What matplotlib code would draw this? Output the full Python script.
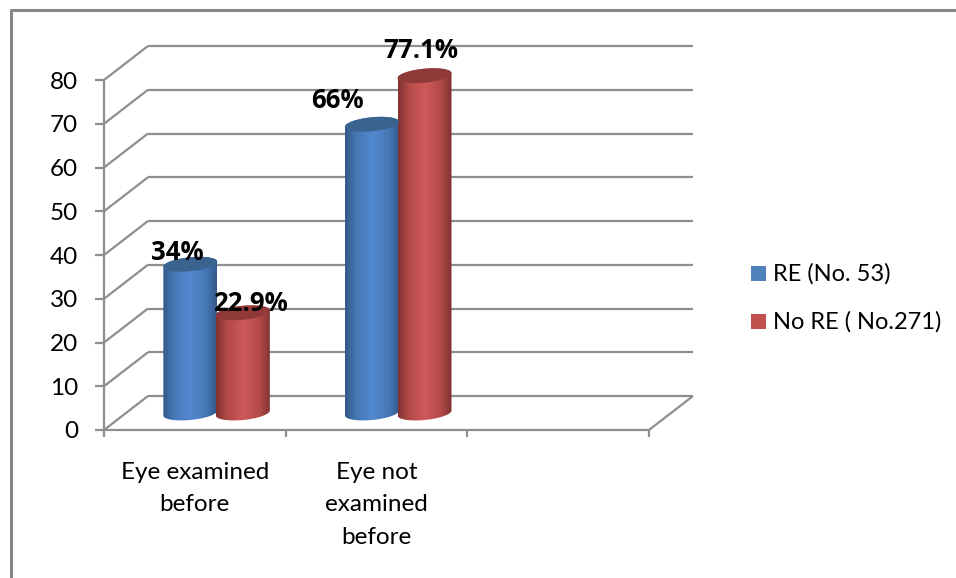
import numpy as np
import matplotlib
matplotlib.use("Agg")
import matplotlib.pyplot as plt
from matplotlib.colors import LinearSegmentedColormap
from matplotlib.patches import Polygon, Rectangle

categories = ["Eye examined\nbefore", "Eye not\nexamined\nbefore", ""]
series_names = ["RE (No. 53)", "No RE ( No.271)"]
re_values = [34, 66]
no_re_values = [22.9, 77.1]
y_ticks = [0, 10, 20, 30, 40, 50, 60, 70, 80]

W, H = 956, 578
# one category is 181.67 px wide, one value unit 4.375 px tall
PX_X = 181.67
PX_Y = 4.375
X0, Y0 = 104, 430
DEPTH_X = 44 / PX_X
DEPTH_Y = 34 / PX_Y
HALF_W = 27 / PX_X
SLOPE = 2.5 / PX_Y
MINOR = 7 / PX_Y
GRID = "#8e8e8e"

plt.rcParams["font.family"] = ["Lato", "DejaVu Sans"]
fig = plt.figure(figsize=(W / 100, H / 100), dpi=100)
ax = fig.add_axes([0, 0, 1, 1])
ax.set_xlim(-X0 / PX_X, (W - X0) / PX_X)
ax.set_ylim(-(H - Y0) / PX_Y, Y0 / PX_Y)
ax.axis("off")

ncat = len(categories)


def gline(xs, ys, lw=1.6, z=1):
    ax.plot(xs, ys, color=GRID, lw=lw, solid_capstyle="butt", zorder=z)


# walls
for v in y_ticks:
    gline([0, DEPTH_X], [v, v + DEPTH_Y])
    gline([DEPTH_X, ncat + DEPTH_X], [v + DEPTH_Y, v + DEPTH_Y])
    gline([-9 / PX_X, 0], [v, v])
    ax.text(-26 / PX_X, v - 2 / PX_Y, str(v), ha="right", va="center", fontsize=17.5, color="black")
gline([0, 0], [0, y_ticks[-1]])
gline([0, ncat], [0, 0])
gline([ncat, ncat + DEPTH_X], [0, DEPTH_Y])
for i in range(ncat + 1):
    gline([i, i], [0, -7 / PX_Y])
for i, c in enumerate(categories):
    ax.text(i + 0.5, -32 / PX_Y, c, ha="center", va="top", fontsize=17.5,
            linespacing=1.67, color="black")


def cylinder(cx, val, dark, mid, light, top_col):
    t = np.linspace(0, 2 * np.pi, 100)
    ex = HALF_W * np.cos(t)
    ey = MINOR * np.sin(t) + SLOPE * np.cos(t)
    base = DEPTH_Y / 2
    x = cx + DEPTH_X / 2
    lower = t >= np.pi
    order = np.argsort(ex[lower])
    bx, by = ex[lower][order], ey[lower][order]
    upper = ~lower
    order = np.argsort(-ex[upper])
    ux, uy = ex[upper][order], ey[upper][order]
    body = np.r_[np.c_[x + bx, base + by], np.c_[x + ux, base + val + uy]]
    grad = LinearSegmentedColormap.from_list(
        "c", [(0, dark), (0.2, mid), (0.5, light), (0.8, mid), (1, dark)])
    im = ax.imshow(np.linspace(0, 1, 128)[None, :], cmap=grad, aspect="auto", zorder=3,
                   extent=[x - HALF_W, x + HALF_W, base - MINOR * 2, base + val + MINOR * 2])
    im.set_clip_path(Polygon(body, transform=ax.transData))
    ax.add_patch(Polygon(np.c_[x + ex, base + val + ey], closed=True, fc=top_col, ec="none", zorder=4))


blue = ("#33598c", "#4678b4", "#5289cf", "#3a6390")
red = ("#7f3230", "#b24a47", "#d0595a", "#8f3a38")
offs = [-26.5 / PX_X, 26 / PX_X]
for i in range(2):
    cylinder(i + 0.5 + offs[0], re_values[i], *blue)
    cylinder(i + 0.5 + offs[1], no_re_values[i], *red)

# value labels, shifted by hand off the bar tops
label_vals = [re_values[0], no_re_values[0], re_values[1], no_re_values[1]]
label_x = [0.5 + offs[0], 0.5 + offs[1], 1.5 + offs[0], 1.5 + offs[1]]
label_dx = [-13, 8, -35, -3.5]
label_dy = [12, 9, 24, 25]
for k, v in enumerate(label_vals):
    ax.text(label_x[k] + DEPTH_X / 2 + label_dx[k] / PX_X,
            v + DEPTH_Y / 2 + label_dy[k] / PX_Y, f"{v}%", ha="center", va="center",
            fontsize=18.5, fontweight="bold", family="Open Sans", color="black", zorder=6)

# legend
for name, col, py in zip(series_names, ["#4f81bd", "#c0504d"], [273.5, 321.5]):
    ax.add_patch(Rectangle(((751 - X0) / PX_X, (Y0 - py - 7.5) / PX_Y), 15 / PX_X, 15 / PX_Y,
                           fc=col, ec="none", zorder=3))
    ax.text((773 - X0) / PX_X, (Y0 - py) / PX_Y, name, ha="left", va="center",
            fontsize=17, color="black")

# outer chart frame
ax.plot(np.array([11, 11, 956]) / PX_X - X0 / PX_X,
        (Y0 - np.array([578, 10, 10])) / PX_Y, color="#868686", lw=2.2, zorder=1)

fig.savefig("out.png", dpi=100)
